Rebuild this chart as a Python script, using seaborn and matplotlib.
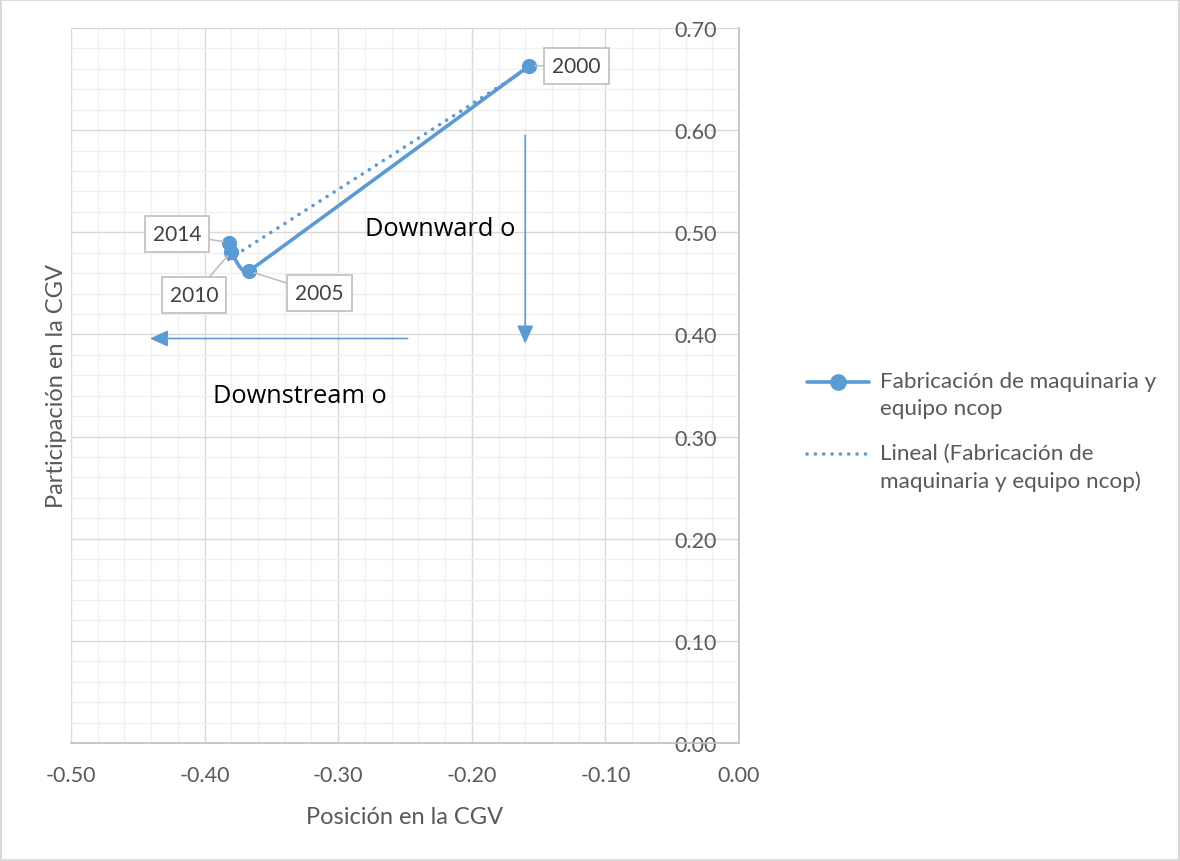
import numpy as np
import pandas as pd
import matplotlib
matplotlib.use("Agg")
import matplotlib.pyplot as plt
from matplotlib.ticker import MultipleLocator, FormatStrFormatter
from matplotlib.legend_handler import HandlerLine2D
import seaborn as sns

# Position / participation in the global value chain, by year
years = ["2000", "2005", "2010", "2014"]
posicion = [-0.157, -0.367, -0.380, -0.382]
participacion = [0.663, 0.462, 0.481, 0.490]

serie = "Fabricación de maquinaria y\nequipo ncop"
tendencia = "Lineal (Fabricación de\nmaquinaria y equipo ncop)"
x_titulo = "Posición en la CGV"
y_titulo = "Participación en la CGV"

# Guide arrows and their captions
flecha_h = {"desde": (-0.248, 0.396), "hasta": (-0.441, 0.396)}
flecha_v = {"desde": (-0.160, 0.595), "hasta": (-0.160, 0.391)}
texto_down = ("Downward o", -0.280, 0.504)
texto_stream = ("Downstream o", -0.394, 0.340)

# Callout offsets (points) for the year labels
offsets = {"2000": (34, 0), "2005": (51, -16), "2010": (-27, -31), "2014": (-37, 6)}

azul = "#5b9bd5"
gris_txt = "#595959"

sns.set_theme(style="white")
plt.rcParams["font.family"] = ["Lato", "DejaVu Sans"]

df = pd.DataFrame({"year": years, "x": posicion, "y": participacion})


def smooth_path(xs, ys, n=30, sx=1.336, sy=1.021):
    """Local cubic Bezier smoothing through the points; control arms are
    limited by the shorter neighbouring leg so long legs stay straight."""
    p = np.column_stack([np.asarray(xs) * sx, np.asarray(ys) * sy])
    k = len(p)
    seglen = np.hypot(*(np.diff(p, axis=0).T))
    tang = np.zeros_like(p)
    for i in range(k):
        d = p[min(i + 1, k - 1)] - p[max(i - 1, 0)]
        nrm = np.hypot(*d)
        tang[i] = d / nrm if nrm > 0 else 0
    out = []
    t = np.linspace(0, 1, n)[:, None]
    for i in range(k - 1):
        p1, p2 = p[i], p[i + 1]
        L = seglen[i]
        arm1 = min(L, seglen[i - 1]) / 3 if i > 0 else L / 3
        arm2 = min(L, seglen[i + 1]) / 3 if i + 1 < k - 1 else L / 3
        c1 = p1 + tang[i] * arm1
        c2 = p2 - tang[i + 1] * arm2
        seg = ((1 - t) ** 3) * p1 + 3 * ((1 - t) ** 2) * t * c1 \
            + 3 * (1 - t) * t ** 2 * c2 + t ** 3 * p2
        out.append(seg)
    c = np.vstack(out)
    return c[:, 0] / sx, c[:, 1] / sy


class ShiftedLine(HandlerLine2D):
    """Legend handle aligned with the first line of a two-line label."""
    def __init__(self, shift=0.0, **kw):
        super().__init__(**kw)
        self.shift = shift

    def create_artists(self, legend, orig_handle, xdescent, ydescent, width,
                       height, fontsize, trans):
        return super().create_artists(legend, orig_handle, xdescent,
                                      ydescent - 2 * self.shift, width, height,
                                      fontsize, trans)


fig = plt.figure(figsize=(11.8, 8.62), dpi=100)
fig.patch.set_edgecolor("#d9d9d9")
fig.patch.set_linewidth(1.5)
ax = fig.add_axes([71 / 1180, 1 - 744 / 862, (739 - 71) / 1180, (744 - 29) / 862])

ax.set_xlim(-0.5, 0.0)
ax.set_ylim(0.0, 0.7)
ax.xaxis.set_major_locator(MultipleLocator(0.1))
ax.xaxis.set_minor_locator(MultipleLocator(0.02))
ax.yaxis.set_major_locator(MultipleLocator(0.1))
ax.yaxis.set_minor_locator(MultipleLocator(0.02))
ax.xaxis.set_major_formatter(FormatStrFormatter("%.2f"))
ax.yaxis.set_major_formatter(FormatStrFormatter("%.2f"))
ax.grid(which="major", color="#d9d9d9", lw=1.0)
ax.grid(which="minor", color="#f0f0f0", lw=1.0)
ax.set_axisbelow(True)

for s in ["top", "left"]:
    ax.spines[s].set_visible(False)
for s in ["right", "bottom"]:
    ax.spines[s].set_color("#bfbfbf")
    ax.spines[s].set_linewidth(1.2)

# Linear trend
sns.regplot(data=df, x="x", y="y", ax=ax, scatter=False, ci=None, truncate=True,
            color=azul, line_kws=dict(lw=2.6, linestyle=(0, (0.01, 2.3)),
                                      dash_capstyle="round"))
# Smoothed series line + markers
cx, cy = smooth_path(posicion, participacion)
sns.lineplot(x=cx, y=cy, sort=False, ax=ax, color=azul, lw=2.6, estimator=None)
sns.scatterplot(data=df, x="x", y="y", ax=ax, color=azul, s=120, edgecolor=azul,
                linewidth=0, zorder=5)

# y tick labels sit just inside the right-hand axis
ax.yaxis.tick_right()
ax.tick_params(axis="y", which="both", length=0, pad=-16, labelsize=15.5, colors=gris_txt)
for lab in ax.get_yticklabels():
    lab.set_ha("right")
ax.tick_params(axis="x", which="major", length=5, width=1.2, color="#bfbfbf",
               labelsize=15.5, labelcolor=gris_txt, pad=11)
ax.tick_params(axis="x", which="minor", length=0)

ax.set_xlabel(x_titulo, fontsize=17, color=gris_txt, labelpad=15)
ax.set_ylabel(y_titulo, fontsize=17, color=gris_txt, labelpad=3)
ax.yaxis.set_label_position("left")

# Year callouts
for yr, xv, yv in zip(years, posicion, participacion):
    ax.annotate(yr, xy=(xv, yv), xytext=offsets[yr], textcoords="offset points",
                ha="center", va="center", fontsize=15, color="#404040", zorder=6,
                bbox=dict(boxstyle="square,pad=0.38", fc="white", ec="#bfbfbf", lw=1.2),
                arrowprops=dict(arrowstyle="-", color="#bfbfbf", lw=1.2,
                                shrinkA=0, shrinkB=4))

# Guide arrows
for fl in (flecha_h, flecha_v):
    ax.annotate("", xy=fl["hasta"], xytext=fl["desde"],
                arrowprops=dict(arrowstyle="-|>,head_length=1.0,head_width=0.45",
                                color=azul, lw=1.2, mutation_scale=11,
                                shrinkA=0, shrinkB=0))
for txt, xv, yv in (texto_down, texto_stream):
    ax.text(xv, yv, txt, fontsize=18.3, color="black",
            family=["Open Sans", "DejaVu Sans"], va="center", ha="left")

# Legend
h1 = plt.Line2D([], [], color=azul, lw=2.6, marker="o", markersize=11)
h2 = plt.Line2D([], [], color=azul, lw=2.6, linestyle=(0, (0.01, 2.3)),
                dash_capstyle="round")
leg = fig.legend([h1, h2], [serie, tendencia], loc="center left",
                 bbox_to_anchor=(787 / 1180, 1 - 432 / 862), frameon=False,
                 fontsize=16.2, labelcolor=gris_txt, handlelength=2.75,
                 handletextpad=0.5, labelspacing=1.1,
                 handler_map={h1: ShiftedLine(shift=9.5), h2: ShiftedLine(shift=9.5)})
for t in leg.get_texts():
    t.set_linespacing(1.45)

fig.savefig("out.png", dpi=100)
